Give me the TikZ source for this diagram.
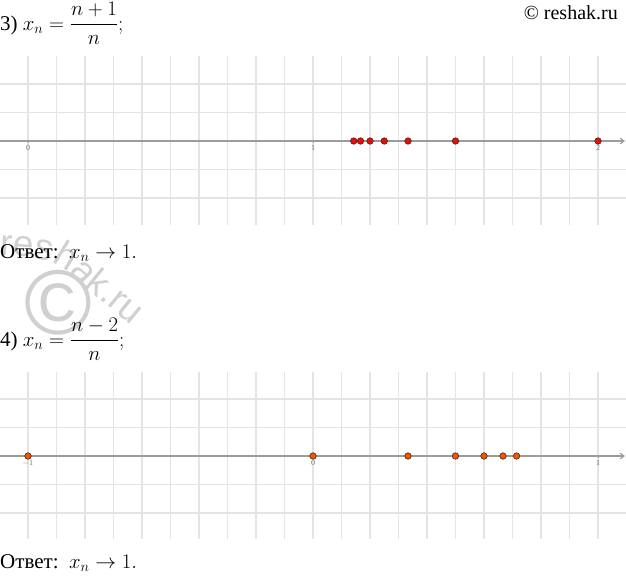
\documentclass[tikz,border=0pt]{standalone}
\usepackage{amsmath}
\usepackage{fontspec}
\setmainfont{Liberation Serif}
\newfontfamily\wmfont{Liberation Sans}
\usepackage{tikz}
\usetikzlibrary{arrows.meta,decorations.text}
\definecolor{gridc}{HTML}{E4E4E4}
\definecolor{axisc}{HTML}{9C9C9C}
\definecolor{ptred}{HTML}{E01010}
\definecolor{ptorange}{HTML}{E65A0A}
\definecolor{ptedge}{HTML}{5A1E0A}
\definecolor{wmc}{HTML}{D0D0D0}
\tikzset{
  gridln/.style={gridc,line width=1.1pt},
  ax/.style={-{Straight Barb[length=1.4mm,width=2mm]},axisc,line width=1.1pt},
  tick/.style={axisc,line width=0.8pt},
  dotA/.style={circle,draw=ptedge,fill=ptred,line width=0.6pt,inner sep=0pt,minimum size=6.5pt},
  dotB/.style={circle,draw=ptedge,fill=ptorange,line width=0.6pt,inner sep=0pt,minimum size=6.5pt},
  lbl/.style={font=\fontsize{8}{8}\selectfont,text=black!55,inner sep=0pt},
  txt/.style={anchor=base west,inner sep=0pt,font=\fontsize{21}{25}\selectfont}
}

\begin{document}
\begin{tikzpicture}[x=1pt,y=-1pt]
\useasboundingbox (0,0) rectangle (626,579);
% watermark
\path[decorate,decoration={text along path,text align=left,text color=wmc,
  text={|\wmfont\fontsize{37}{37}\selectfont|reshak.ru}}]
  (0,256) .. controls (48,256) and (60,264) .. (76,280) -- (176,362);
\node[text=wmc,inner sep=0pt,font=\wmfont\fontsize{92}{92}\selectfont] (wmcopy) at (58,303) {©};
% top number line
\foreach \k in {0,...,20} \draw[gridln] ({28+28.5*\k},56) -- ({28+28.5*\k},225);
\foreach \j in {-2,-1,1,2} \draw[gridln] (0,{141+28.5*\j}) -- (626,{141+28.5*\j});
\coordinate (axL) at (0,141); \coordinate (axR) at (625,141);
\draw[ax] (axL) -- (axR);
\foreach \v/\t in {0/0,1/1,2/2} {
  \draw[tick] ({28+285*\v},139.5) -- ({28+285*\v},142.5);
  \node[lbl] (ta\v) at ({28+285*\v},148) {\t};
}
\foreach \n in {1,...,7} \node[dotA] (a\n) at ({28+285*(\n+1)/\n},141) {};
% bottom number line
\foreach \k in {0,...,20} \draw[gridln] ({28+28.5*\k},372) -- ({28+28.5*\k},539);
\foreach \j in {-2,-1,1,2} \draw[gridln] (0,{456+28.5*\j}) -- (626,{456+28.5*\j});
\coordinate (bxL) at (0,456); \coordinate (bxR) at (625,456);
\draw[ax] (bxL) -- (bxR);
\foreach \v/\t in {-1/$-1$,0/0,1/1} {
  \draw[tick] ({313+285*\v},454.5) -- ({313+285*\v},457.5);
  \node[lbl] (tb\v) at ({313+285*\v},463) {\t};
}
\foreach \n in {1,...,7} \node[dotB] (b\n) at ({313+285*(\n-2)/\n},456) {};
% texts
\node[txt] (q3) at (0,30) {3) $\displaystyle x_n=\frac{n+1}{n};$};
\node[txt] (ans3) at (0,258) {Ответ:\ \ $x_n\to1.$};
\node[txt] (q4) at (0,346) {4) $\displaystyle x_n=\frac{n-2}{n};$};
\node[txt] (ans4) at (0,568) {Ответ:\ \ $x_n\to1.$};
\node[anchor=base east,inner sep=0pt,font=\fontsize{20}{24}\selectfont] (site) at (618,19) {© reshak.ru};
\end{tikzpicture}
\end{document}
